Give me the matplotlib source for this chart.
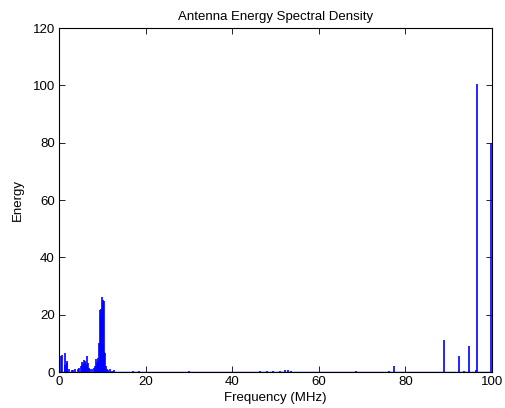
import matplotlib
matplotlib.use("Agg")
import matplotlib.pyplot as plt

# Spectral peaks (frequency in MHz, energy)
peak_freq = [0.5, 0.65, 1.35, 1.5, 1.8, 1.95, 2.4, 2.9, 3.3, 3.8, 4.3, 4.7,
             5.0, 5.3, 5.5, 5.7, 5.9, 6.1, 6.3, 6.5, 6.7, 6.9, 7.2, 7.6, 8.0,
             8.3, 8.5, 8.7, 8.9, 9.1, 9.3, 9.45, 9.6, 9.75, 9.85, 9.95, 10.05,
             10.15, 10.3, 10.45, 10.6, 10.75, 11.0, 11.3, 11.7, 12.2, 12.6,
             17.0, 18.5, 30.0, 46.5, 48.0, 49.5, 51.0, 52.3, 52.8, 53.5, 68.5,
             76.1, 77.3, 88.9, 92.3, 93.6, 94.7, 96.3, 96.6, 99.85]
peak_energy = [5.5, 6.0, 2.5, 6.7, 4.0, 3.2, 1.0, 0.8, 0.6, 1.2, 1.0, 1.5,
               2.0, 3.5, 2.8, 4.2, 3.0, 4.0, 2.5, 5.6, 3.0, 1.5, 1.0, 1.2, 1.5,
               2.0, 4.5, 3.0, 5.0, 4.0, 10.0, 21.5, 22.0, 20.0, 26.0, 18.0, 24.0,
               25.0, 24.8, 7.0, 6.5, 2.0, 1.2, 0.8, 1.0, 0.5, 0.7,
               0.4, 0.3, 0.3, 0.4, 0.5, 0.4, 0.5, 0.8, 0.7, 0.4, 0.3,
               0.5, 2.1, 11.2, 5.6, 0.5, 9.0, 0.6, 100.5, 79.8]

x_ticks = [0, 20, 40, 60, 80, 100]
y_ticks = [0, 20, 40, 60, 80, 100, 120]

plt.rcParams['font.family'] = ['Liberation Sans', 'DejaVu Sans']

fig = plt.figure(figsize=(5.06, 4.08), dpi=100)
ax = fig.add_axes([0.1166, 0.0882, 0.8557, 0.8431])

ax.vlines(peak_freq, 0, peak_energy, colors='#0000ff', linewidth=1.2,
          zorder=3, clip_on=False)
ax.plot([0, 100], [0, 0], color='#0000ff', linewidth=1.0, zorder=3)

ax.set_xlim(0, 100)
ax.set_ylim(0, 120)
ax.set_xticks(x_ticks)
ax.set_yticks(y_ticks)
ax.tick_params(direction='in', top=True, right=True, length=4, width=0.6,
               labelsize=9.5, pad=3)
for s in ax.spines.values():
    s.set_linewidth(0.8)

ax.set_title('Antenna Energy Spectral Density', fontsize=9.5, pad=6)
ax.set_xlabel('Frequency (MHz)', fontsize=9.5, labelpad=3)
ax.set_ylabel('Energy', fontsize=9.5, labelpad=6)

fig.savefig('out.png', dpi=100)
